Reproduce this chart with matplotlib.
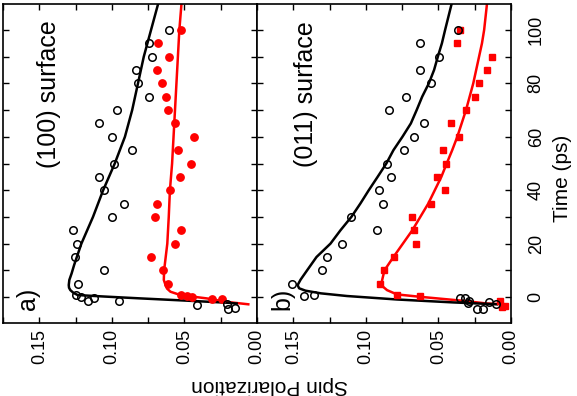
import matplotlib
matplotlib.use("Agg")
import matplotlib.pyplot as plt
from matplotlib.ticker import MultipleLocator

plt.rcParams['font.family'] = ['Liberation Sans', 'DejaVu Sans']

# --- panel a : (100) surface ---
a_black_t = [100, 95, 90, 85, 80, 75, 70, 65, 60, 55, 50, 45, 40, 35, 30, 25, 20, 15, 10, 5,
             0.75, 0.1, -1.4, -0.5, -1.4, -3.0, -2.7, -4.6, -3.9]
a_black_sp = [0.0608, 0.0744, 0.0721, 0.0831, 0.082, 0.0744, 0.0968, 0.1087, 0.100, 0.0858,
              0.0984, 0.1087, 0.1057, 0.0916, 0.100, 0.1265, 0.124, 0.1251, 0.1057, 0.1235,
              0.1247, 0.121, 0.1167, 0.112, 0.095, 0.0413, 0.0208, 0.0197, 0.0155]
a_red_t = [100, 95, 90, 85, 80, 75, 70, 65, 60, 55, 50, 45, 40, 35, 30, 25, 20, 15, 10, 5,
           0.75, 0.4, 0.1, -0.9, -0.9]
a_red_sp = [0.0527, 0.0683, 0.0608, 0.0692, 0.0653, 0.0626, 0.0614, 0.0566, 0.0432, 0.0543,
            0.0452, 0.0532, 0.060, 0.0692, 0.0705, 0.0525, 0.0566, 0.0728, 0.0651, 0.0615,
            0.0527, 0.0482, 0.0447, 0.0311, 0.0242]
a_black_fit_t = [-2.4, -2.1, -1.4, -0.5, 0.2, 0.75, 1.6, 2.6, 3.5, 4.5, 6.4, 8.9, 12, 20, 30,
                 40, 50, 60, 70, 80, 90, 100, 110]
a_black_fit = [0.014, 0.021, 0.046, 0.080, 0.105, 0.1235, 0.1265, 0.1286, 0.1295, 0.1297,
               0.1293, 0.1277, 0.126, 0.121, 0.113, 0.106, 0.098, 0.091, 0.086, 0.082, 0.078,
               0.073, 0.068]
a_red_fit_t = [-2.7, -1.8, -0.5, 0.75, 2.0, 3.2, 4.5, 6.4, 10, 20, 30, 40, 50, 60, 70, 80, 90,
               100, 110]
a_red_fit = [0.006, 0.021, 0.0345, 0.0527, 0.0596, 0.062, 0.063, 0.0642, 0.064, 0.0618, 0.0608,
             0.060, 0.0585, 0.0575, 0.0565, 0.0555, 0.0545, 0.0535, 0.052]

# --- panel b : (011) surface ---
b_black_t = [100, 95, 90, 85, 80, 75, 70, 65, 60, 55, 50, 45, 40, 35, 30, 25, 20, 15, 10, 5,
             0.4, 0.75, -0.3, -0.5, -1.4, -2.4, -4.5, -4.6, -2.0, -2.6]
b_black_sp = [0.0362, 0.063, 0.0495, 0.0625, 0.0552, 0.0722, 0.0843, 0.0598, 0.0671, 0.0735,
              0.0854, 0.0827, 0.0912, 0.0882, 0.110, 0.0923, 0.1164, 0.1267, 0.130, 0.1507,
              0.1423, 0.1359, 0.035, 0.0316, 0.0287, 0.0293, 0.0236, 0.0195, 0.0149, 0.0103]
b_red_t = [100, 95, 90, 85, 80, 75, 70, 65, 60, 55, 50, 45, 40, 35, 30, 25, 20, 15, 10, 5,
           0.75, 0.5, -1.4, -3.4, -3.6]
b_red_sp = [0.035, 0.0369, 0.0131, 0.0163, 0.0218, 0.0245, 0.0311, 0.041, 0.036, 0.047, 0.0447,
            0.0511, 0.0458, 0.055, 0.0682, 0.0671, 0.0655, 0.0804, 0.0877, 0.090, 0.0786,
            0.0625, 0.0076, 0.0041, 0.0064]
b_black_fit_t = [-2.7, -2.0, -0.9, 0.4, 1.4, 2.4, 3.3, 4.5, 6.5, 10, 15, 20, 25, 30, 35, 40, 45,
                 50, 55, 60, 65, 70, 75, 80, 85, 90, 95, 100, 110]
b_black_fit = [0.0098, 0.0397, 0.0786, 0.113, 0.131, 0.1416, 0.146, 0.147, 0.145, 0.1405,
               0.134, 0.1244, 0.1175, 0.110, 0.1038, 0.098, 0.0919, 0.0859, 0.081, 0.0748,
               0.069, 0.065, 0.0612, 0.0566, 0.053, 0.0504, 0.0476, 0.0454, 0.0408]
b_red_fit_t = [-2.7, -2.4, -1.4, 0.1, 1.0, 2.6, 4.5, 7, 10, 15, 20, 25, 30, 35, 40, 45, 50, 55,
               60, 65, 70, 75, 80, 85, 90, 95, 100, 110]
b_red_fit = [0.003, 0.0167, 0.0328, 0.0625, 0.0786, 0.0854, 0.0895, 0.0885, 0.0872, 0.081,
             0.0745, 0.068, 0.0625, 0.057, 0.0525, 0.048, 0.0443, 0.0405, 0.037, 0.034, 0.031,
             0.0285, 0.026, 0.024, 0.022, 0.020, 0.0185, 0.0165]

sp_ticks = [0.15, 0.10, 0.05, 0.00]
sp_labels = ['0.15', '0.10', '0.05', '0.00']
time_ticks = [0, 20, 40, 60, 80, 100]

W, H = 577, 396
fig = plt.figure(figsize=(W / 100, H / 100), dpi=100)
ax_a = fig.add_axes([3 / W, 1 - 323 / H, 254 / W, 319 / H])
ax_b = fig.add_axes([257 / W, 1 - 323 / H, 254 / W, 319 / H])

panels = [
    (ax_a, a_red_sp, a_red_t, 'o', a_black_sp, a_black_t, a_red_fit, a_red_fit_t,
     a_black_fit, a_black_fit_t, 'a)', '(100) surface', 0.182),
    (ax_b, b_red_sp, b_red_t, 's', b_black_sp, b_black_t, b_red_fit, b_red_fit_t,
     b_black_fit, b_black_fit_t, 'b)', '(011) surface', 0.193),
]

for (ax, rsp, rt, rmark, ksp, kt, rfit, rfit_t, kfit, kfit_t, tag, title, tx) in panels:
    ax.plot(rfit, rfit_t, color='red', lw=1.8, zorder=2)
    ax.plot(kfit, kfit_t, color='black', lw=1.8, zorder=2)
    ax.plot(rsp, rt, rmark, color='red', ms=5.3 if rmark == 'o' else 4.8, mec='red',
            linestyle='none', zorder=3)
    ax.plot(ksp, kt, 'o', mfc='none', mec='black', mew=1.1, ms=5.4,
            linestyle='none', zorder=4)

    ax.set_xlim(0.175, 0.0)
    ax.set_ylim(-9.7, 109.7)
    ax.set_xticks(sp_ticks)
    ax.set_xticklabels(sp_labels, rotation=90)
    ax.xaxis.set_minor_locator(MultipleLocator(0.025))
    ax.set_yticks(time_ticks)
    ax.yaxis.set_minor_locator(MultipleLocator(10))
    ax.tick_params(which='both', direction='in', top=True, bottom=True,
                   left=True, right=True, length=4, width=1.0, labelsize=13)
    ax.tick_params(axis='x', pad=4)
    ax.tick_params(axis='y', labelleft=False, labelright=False)
    for s in ax.spines.values():
        s.set_linewidth(1.2)

    ax.text(tx, 0.716, title, transform=ax.transAxes, rotation=90,
            ha='center', va='center', fontsize=18)
    ax.text(0.1, 0.075, tag, transform=ax.transAxes, rotation=90,
            ha='center', va='center', fontsize=18)

ax_b.tick_params(axis='y', labelright=True, pad=12)
for lab in ax_b.get_yticklabels():
    lab.set_rotation(90)
    lab.set_va('center')

fig.text(270 / W, 1 - 386 / H, 'Spin Polarization', rotation=180,
         ha='center', va='center', fontsize=15)
fig.text(563 / W, 1 - 178 / H, 'Time (ps)', rotation=90,
         ha='center', va='center', fontsize=15)

fig.savefig('out.png', dpi=100)
